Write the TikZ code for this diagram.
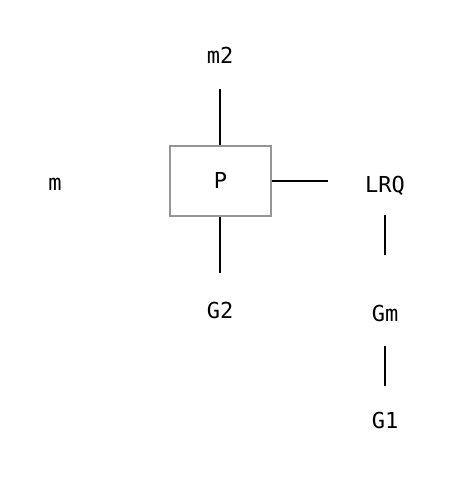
\documentclass[tikz,border=0pt]{standalone}
\usepackage{fontspec}
\setmonofont{DejaVu Sans Mono}
\usetikzlibrary{positioning}

\definecolor{boxgray}{RGB}{150,150,150}

\newcommand{\wireWidth}{1.6pt}
\newcommand{\boxWidth}{1.6pt}
\newcommand{\blockX}{220.5}
\newcommand{\blockY}{181}
\newcommand{\leftX}{55}
\newcommand{\rightX}{385}

\begin{document}
\begin{tikzpicture}[x=1pt,y=-1pt,
    signame/.style={font=\ttfamily\fontsize{22}{22}\selectfont, inner sep=0pt, text height=16pt, text depth=0pt},
    wire/.style={line width=\wireWidth, black}]
        \useasboundingbox (0,0) rectangle (464,486);

        % Block
        \node[signame, draw=boxgray, line width=\boxWidth, minimum width=101pt, minimum height=70pt] (P) at (\blockX,\blockY) {P};

        % Names
        \node[signame] (m2) at (220,56) {m2};
        \node[signame] (G2) at (220,310) {G2};
        \node[signame] (m) at (\leftX,182) {m};
        \node[signame] (LRQ) at (\rightX,184) {LRQ};
        \node[signame] (Gm) at (\rightX,313) {Gm};
        \node[signame] (G1) at (\rightX,420) {G1};

        % Draw block connections
        \draw [wire, shorten <=33pt] (m2.center) -- (m2.center |- P.north);
        \draw [wire, shorten >=37pt] (P.south -| G2.center) -- (G2.center);
        \draw [wire, shorten >=57pt] (P.east) -- (P.east -| LRQ.center);

        % Draw right chain
        \draw [wire, shorten <=31pt, shorten >=58pt] (LRQ.center) -- (Gm.center);
        \draw [wire, shorten <=33pt, shorten >=34pt] (Gm.center) -- (G1.center);
    \end{tikzpicture}
\end{document}
